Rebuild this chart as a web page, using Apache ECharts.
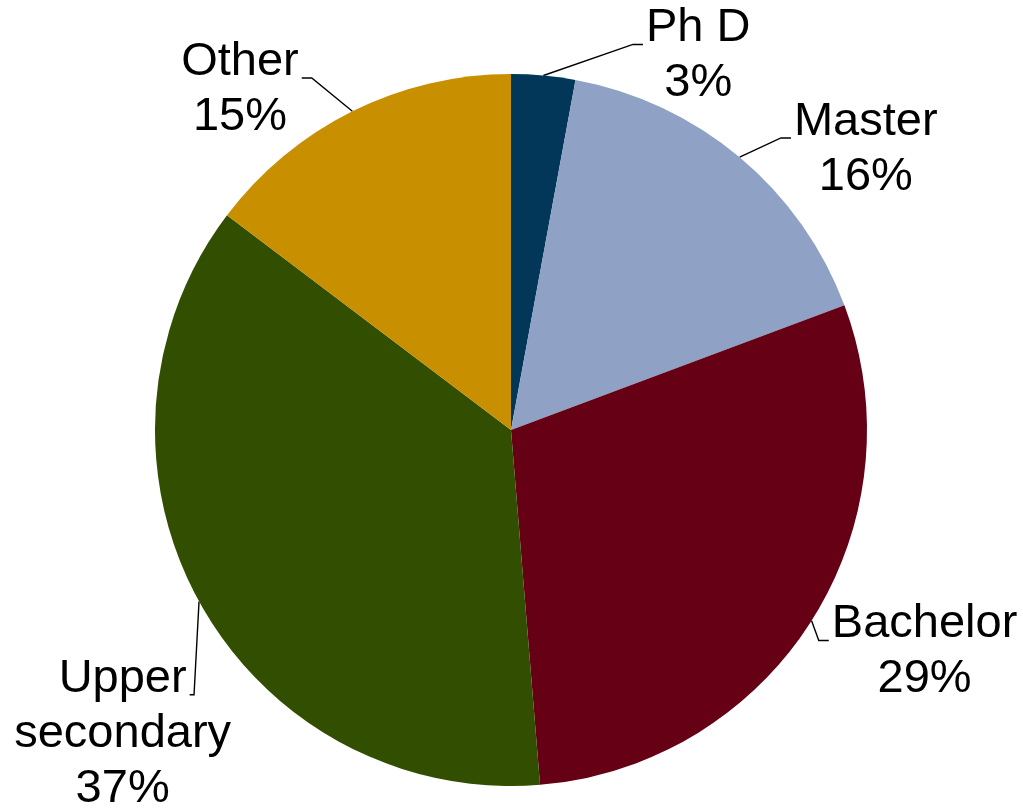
<!DOCTYPE html>
<html>
<head>
<meta charset="utf-8">
<script src="https://cdn.jsdelivr.net/npm/echarts@6/dist/echarts.min.js"></script>
<style>
  html, body { margin: 0; padding: 0; background: #fff; }
  #pieChart { width: 1023px; height: 810px; }
</style>
</head>
<body>
<div id="pieChart"></div>
<script>
  // data
  const names = ['Ph D', 'Master', 'Bachelor', 'Upper\nsecondary', 'Other'];
  const shares = [2.9, 16.4, 29.4, 36.6, 14.7];
  const colors = ['#03375A', '#8FA2C5', '#650015', '#324E00', '#C89000'];
  // label line [length, length2] per slice, only used to place the labels
  const lineLens = [[19.6, 95.8], [10, 42.9], [58.4, -34.1], [274.4, -277.5], [24.3, 37.8]];

  const FONT = '"Liberation Sans", Arial, sans-serif';
  const FONT_SIZE = 47;

  const ctx = document.createElement('canvas').getContext('2d');
  ctx.font = FONT_SIZE + 'px ' + FONT;

  let pieChart = echarts.init(document.getElementById('pieChart'));

  let option = {
    animation: false,
    series: [
      {
        type: 'pie',
        center: [511, 430],
        radius: 356,
        startAngle: 90,
        clockwise: true,
        avoidLabelOverlap: false,
        itemStyle: { borderWidth: 0 },
        label: {
          show: true,
          position: 'outside',
          color: '#000',
          fontFamily: FONT,
          fontSize: FONT_SIZE,
          lineHeight: 55,
          distanceToLabelLine: 5,
          formatter: function (p) {
            let lines = p.name.split('\n');
            lines.push(Math.round(p.percent) + '%');
            return lines.map(function (l) { return '{c|' + l + '}'; }).join('\n');
          },
          rich: {
            c: { align: 'center', fontFamily: FONT, fontSize: FONT_SIZE, lineHeight: 55, color: '#000' }
          }
        },
        labelLine: {
          show: true,
          smooth: false,
          lineStyle: { color: '#000', width: 1.4 }
        },
        // excel style leader: slanted line, then a short flat stub into the first text line
        labelLayout: function (params) {
          let pts = params.labelLinePoints;
          if (!pts) return {};
          let rect = params.labelRect;
          let first = names[params.dataIndex].split('\n')[0];
          let w1 = ctx.measureText(first).width;
          let cx = rect.x + rect.width / 2;
          let ay = rect.y + 43.5;
          let onRight = params.align === 'left';
          let ax = onRight ? cx - w1 / 2 - 3 : cx + w1 / 2 + 3;
          let p0 = pts[0];
          let stub = Math.min(10, Math.max(0, Math.abs(ax - p0[0]) - 5));
          let sx = onRight ? ax - stub : ax + stub;
          return { labelLinePoints: [p0, [sx, ay], [ax, ay]] };
        },
        data: names.map(function (n, i) {
          return {
            name: n,
            value: shares[i],
            itemStyle: { color: colors[i] },
            labelLine: { length: lineLens[i][0], length2: lineLens[i][1] }
          };
        })
      }
    ]
  };

  pieChart.setOption(option);
</script>
</body>
</html>
